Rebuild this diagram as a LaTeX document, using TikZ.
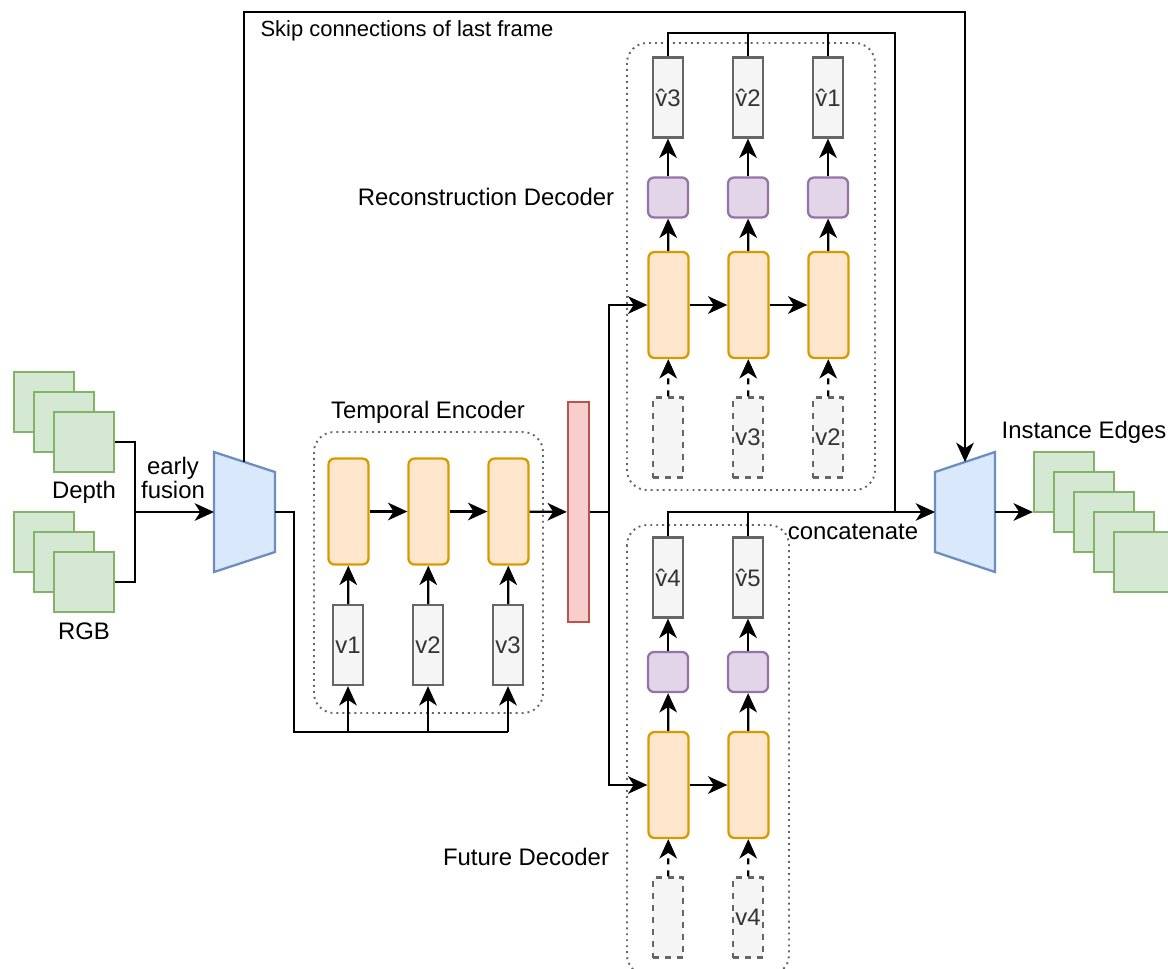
\documentclass[tikz,border=0pt]{standalone}
\usepackage{fontspec}
\setmainfont{Liberation Sans}
\usetikzlibrary{arrows.meta, positioning}
\definecolor{frameFill}{HTML}{D5E8D4}
\definecolor{frameLine}{HTML}{82B366}
\definecolor{netFill}{HTML}{DAE8FC}
\definecolor{netLine}{HTML}{6C8EBF}
\definecolor{cellFill}{HTML}{FFE6CC}
\definecolor{cellLine}{HTML}{D79B00}
\definecolor{headFill}{HTML}{E1D5E7}
\definecolor{headLine}{HTML}{9673A6}
\definecolor{vecFill}{HTML}{F5F5F5}
\definecolor{vecLine}{HTML}{666666}
\definecolor{vecText}{HTML}{333333}
\definecolor{codeFill}{HTML}{F8CECC}
\definecolor{codeLine}{HTML}{B85450}

\begin{document}
\begin{tikzpicture}[x = 0.02cm, y = -0.02cm, line width = 1.3pt,
        font = \fontsize{13.6}{15.5}\selectfont,
        arr/.style = {-{Stealth[length=11pt, width=10pt, inset=3.2pt]}},
        darr/.style = {arr, dash pattern = on 3.4pt off 3.4pt},
        frame/.style = {draw = frameLine, fill = frameFill, minimum size = 1.2cm, inner sep = 0pt},
        vec/.style = {draw = vecLine, fill = vecFill, text = vecText, minimum width = 0.6cm, minimum height = 1.6cm, inner sep = 0pt},
        dvec/.style = {vec, dash pattern = on 3.4pt off 3.4pt},
        cell/.style = {draw = cellLine, fill = cellFill, rounded corners = 0.12cm, minimum width = 0.8cm, minimum height = 2.12cm},
        head/.style = {draw = headLine, fill = headFill, rounded corners = 0.12cm, minimum size = 0.8cm},
        group/.style = {draw = vecLine, dash pattern = on 1.1pt off 2.3pt, rounded corners = 0.4cm, line width = 1.1pt},
        net/.style = {draw = netLine, fill = netFill}]
    \useasboundingbox (0,0) rectangle (1168,968);

    \foreach \i in {0,1,2} {
        \node[frame] (depth\i) at (44+20*\i, 402+20*\i) {};
        \node[frame] (rgb\i) at (44+20*\i, 542+20*\i) {};
    }
    \node (depth) at (84,492) {Depth};
    \node (rgb) at (84,631) {RGB};
    \node[align = center, font = \fontsize{13.6}{13.9}\selectfont] (fusion) at (173,478) {early\\fusion};

    \coordinate (E1) at (214,452); \coordinate (E2) at (275,472);
    \coordinate (E3) at (275,552); \coordinate (E4) at (214,572);
    \draw[net] (E1) -- (E2) -- (E3) -- (E4) -- cycle;
    \coordinate (Ein) at (214,512); \coordinate (Eout) at (275,512); \coordinate (Etop) at (244,462);

    \coordinate (D1) at (935,472); \coordinate (D2) at (995,452);
    \coordinate (D3) at (995,572); \coordinate (D4) at (935,552);
    \draw[net] (D1) -- (D2) -- (D3) -- (D4) -- cycle;
    \coordinate (Din) at (935,512); \coordinate (Dout) at (995,512); \coordinate (Dtop) at (965,462);

    \coordinate (J) at (135,512);
    \draw (depth2.east) -| (J) |- (rgb2.east);
    \draw[arr] (J) -- (Ein);

    \coordinate (S) at (965,12);
    \draw[arr] (Etop) |- (S) -- (Dtop);
    \node[font = \fontsize{12.5}{14}\selectfont] (skip) at (407,31) {Skip connections of last frame};

    \draw[group] (314,432) rectangle (543,713);
    \node (tenc) at (428,412) {Temporal Encoder};
    \foreach \i/\x in {1/348, 2/428, 3/508} {
        \node[cell] (enc\i) at (\x+0.5, 511.5) {};
        \node[vec] (in\i) at (\x, 645) {v\i};
        \draw[arr] (in\i) -- (enc\i);
    }
    \draw[arr] (enc1) -- (enc2);
    \draw[arr] (enc2) -- (enc3);
    \coordinate (B) at (294,732);
    \draw (Eout) -| (B) -- (B -| in3);
    \foreach \i in {1,2,3} \draw[arr] (B -| in\i) -- (in\i);

    \node[draw = codeLine, fill = codeFill, minimum width = 0.42cm, minimum height = 4.4cm, inner sep = 0pt] (code) at (578.5,512) {};
    \draw[arr] (enc3) -- (code);
    \coordinate (F) at (609,512);
    \draw (code) -- (F);

    \draw[group] (627,43) rectangle (875,490);
    \node (rdec) at (486,197) {Reconstruction Decoder};
    \foreach \i/\x/\t/\h in {1/668//3, 2/748/v3/2, 3/828/v2/1} {
        \node[cell] (rec\i) at (\x+0.5, 305) {};
        \node[head] (rh\i) at (\x, 197.5) {};
        \node[vec] (rv\i) at (\x, 97.5) {\^{v}\h};
        \node[dvec] (ri\i) at (\x, 437.5) {\t};
        \draw[darr] (ri\i) -- (rec\i);
        \draw[arr] (rec\i) -- (rh\i);
        \draw[arr] (rh\i) -- (rv\i);
    }
    \draw[arr] (rec1) -- (rec2);
    \draw[arr] (rec2) -- (rec3);

    \draw[group] (627,525) rectangle (789,975);
    \node (fdec) at (526,857) {Future Decoder};
    \foreach \i/\x/\t/\h in {1/668//4, 2/748/v4/5} {
        \node[cell] (fut\i) at (\x+0.5, 785) {};
        \node[head] (fh\i) at (\x, 672) {};
        \node[vec] (fv\i) at (\x, 577.5) {\^{v}\h};
        \node[dvec] (fi\i) at (\x, 917.5) {\t};
        \draw[darr] (fi\i) -- (fut\i);
        \draw[arr] (fut\i) -- (fh\i);
        \draw[arr] (fh\i) -- (fv\i);
    }
    \draw[arr] (fut1) -- (fut2);

    \draw[arr] (F) |- (rec1);
    \draw[arr] (F) |- (fut1);

    \coordinate (T) at (895,33);
    \draw (rv1) |- (T) -- (T |- Din);
    \draw (rv2) -- (rv2 |- T);
    \draw (rv3) -- (rv3 |- T);
    \draw[arr] (fv1) |- (Din);
    \draw (fv2) -- (fv2 |- Din);
    \node (cat) at (853,532) {concatenate};

    \foreach \i in {0,...,4} \node[frame] (out\i) at (1064+20*\i, 482+20*\i) {};
    \draw[arr] (Dout) -- (Dout -| out0.west);
    \node (edges) at (1084,432) {Instance Edges};
\end{tikzpicture}
\end{document}
